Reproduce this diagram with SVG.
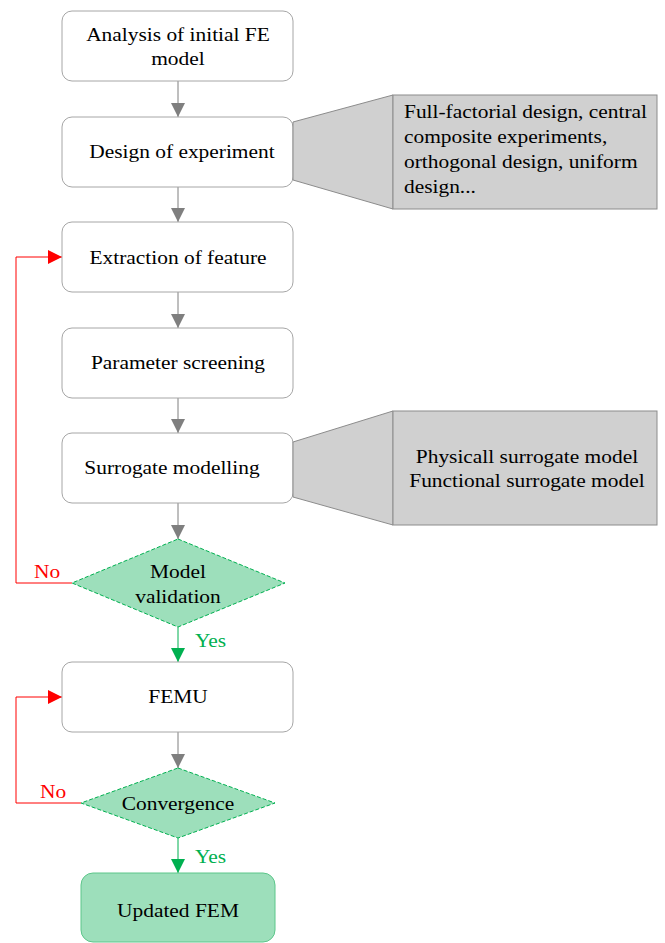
<svg xmlns="http://www.w3.org/2000/svg" width="665" height="943" viewBox="0 0 665 943">
<style>
text{font-family:"Liberation Serif","Times New Roman",serif;font-size:18px;fill:#000;transform-box:fill-box;transform-origin:center;transform:scaleX(1.19)}
.l{transform-origin:left center}
.box{fill:#fff;stroke:#A6A6A6;stroke-width:1}
.co{fill:#D0D0D0;stroke:#8C8C8C;stroke-width:1}
.dia{fill:#9DDFBB;stroke:#00B050;stroke-width:1;stroke-dasharray:4 2}
.end{fill:#9DDFBB;stroke:#5CC68A;stroke-width:1}
.g{stroke:#7F7F7F;stroke-width:1;fill:none}
.r{stroke:#FF0000;stroke-width:1;fill:none}
.gr{stroke:#00B050;stroke-width:1;fill:none}
.c{text-anchor:middle}
.red{fill:#FF0000}
.grn{fill:#00B050}
</style>
<defs>
<marker id="ag" viewBox="0 0 10 10" refX="10" refY="5" markerWidth="16" markerHeight="14" markerUnits="userSpaceOnUse" orient="auto"><path d="M0,0L10,5L0,10z" fill="#7F7F7F"/></marker>
<marker id="ar" viewBox="0 0 10 10" refX="10" refY="5" markerWidth="16" markerHeight="14" markerUnits="userSpaceOnUse" orient="auto"><path d="M0,0L10,5L0,10z" fill="#FF0000"/></marker>
<marker id="agr" viewBox="0 0 10 10" refX="10" refY="5" markerWidth="16" markerHeight="14" markerUnits="userSpaceOnUse" orient="auto"><path d="M0,0L10,5L0,10z" fill="#00B050"/></marker>
</defs>
<g id="connectors">
<line class="g" x1="178" y1="81" x2="178" y2="117" marker-end="url(#ag)"/>
<line class="g" x1="178" y1="187" x2="178" y2="222" marker-end="url(#ag)"/>
<line class="g" x1="178" y1="292" x2="178" y2="328" marker-end="url(#ag)"/>
<line class="g" x1="178" y1="398" x2="178" y2="433" marker-end="url(#ag)"/>
<line class="g" x1="178" y1="503" x2="178" y2="539" marker-end="url(#ag)"/>
<line class="gr" x1="178" y1="627" x2="178" y2="662" marker-end="url(#agr)"/>
<line class="g" x1="178" y1="732" x2="178" y2="768" marker-end="url(#ag)"/>
<line class="gr" x1="178" y1="838" x2="178" y2="873" marker-end="url(#agr)"/>
<polyline class="r" points="72,583 16,583 16,257 62,257" marker-end="url(#ar)"/>
<polyline class="r" points="81,803 16,803 16,697 62,697" marker-end="url(#ar)"/>
<text class="red l" x="34" y="578">No</text>
<text class="red l" x="40" y="798">No</text>
<text class="grn l" x="195" y="647">Yes</text>
<text class="grn l" x="195" y="863">Yes</text>
</g>
<g id="n1"><rect class="box" x="62" y="11" width="231" height="70" rx="10"/><text class="c" x="178" y="41">Analysis of initial FE</text><text class="c" x="178" y="65">model</text></g>
<g id="n2"><rect class="box" x="62" y="117" width="231" height="70" rx="10"/><text class="c" x="182" y="158">Design of experiment</text></g>
<g id="callout1"><polygon class="co" points="293,122 393,95 393,209 293,180"/><rect class="co" x="393" y="95" width="264" height="114"/>
<text class="l" x="404" y="118">Full-factorial design, central</text><text class="l" x="404" y="143">composite experiments,</text><text class="l" x="404" y="168">orthogonal design, uniform</text><text class="l" x="404" y="193">design...</text></g>
<g id="n3"><rect class="box" x="62" y="222" width="231" height="70" rx="10"/><text class="c" x="178" y="264">Extraction of feature</text></g>
<g id="n4"><rect class="box" x="62" y="328" width="231" height="70" rx="10"/><text class="c" x="178" y="369">Parameter screening</text></g>
<g id="n5"><rect class="box" x="62" y="433" width="231" height="70" rx="10"/><text class="c" x="172" y="474">Surrogate modelling</text></g>
<g id="callout2"><polygon class="co" points="293,442 393,411 393,525 293,497"/><rect class="co" x="393" y="411" width="264" height="114"/>
<text class="c" x="527" y="463">Physicall surrogate model</text><text class="c" x="527" y="487">Functional surrogate model</text></g>
<g id="d1"><polygon class="dia" points="178,539 285,583 178,627 72,583"/><text class="c" x="178" y="578">Model</text><text class="c" x="178" y="603">validation</text></g>
<g id="n6"><rect class="box" x="62" y="662" width="231" height="70" rx="10"/><text class="c" x="178" y="703">FEMU</text></g>
<g id="d2"><polygon class="dia" points="178,768 275,803 178,838 81,803"/><text class="c" x="178" y="810">Convergence</text></g>
<g id="n7"><rect class="end" x="81" y="873" width="194" height="69" rx="12"/><text class="c" x="178" y="917">Updated FEM</text></g>
</svg>
